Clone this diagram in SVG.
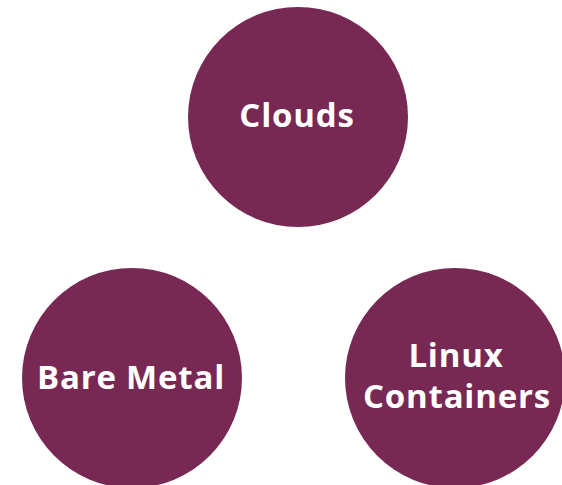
<svg xmlns="http://www.w3.org/2000/svg" width="562" height="485" viewBox="0 0 562 485">
<style>
.n{fill:#772953}
.t{fill:#fff;font-family:"Open Sans","DejaVu Sans",sans-serif;font-weight:bold;font-size:33px;text-anchor:middle;letter-spacing:0.8px}
</style>
<rect width="562" height="485" fill="#fff"/>
<g id="clouds"><circle class="n" cx="298" cy="117" r="110"/><text class="t" x="297" y="127">Clouds</text></g>
<g id="bare-metal"><circle class="n" cx="132" cy="378" r="110"/><text class="t" x="131" y="389">Bare Metal</text></g>
<g id="linux-containers"><circle class="n" cx="455" cy="378" r="110"/><text class="t" x="456" y="367">Linux</text><text class="t" x="457" y="408">Containers</text></g>
<g id="connectors"/>
</svg>
